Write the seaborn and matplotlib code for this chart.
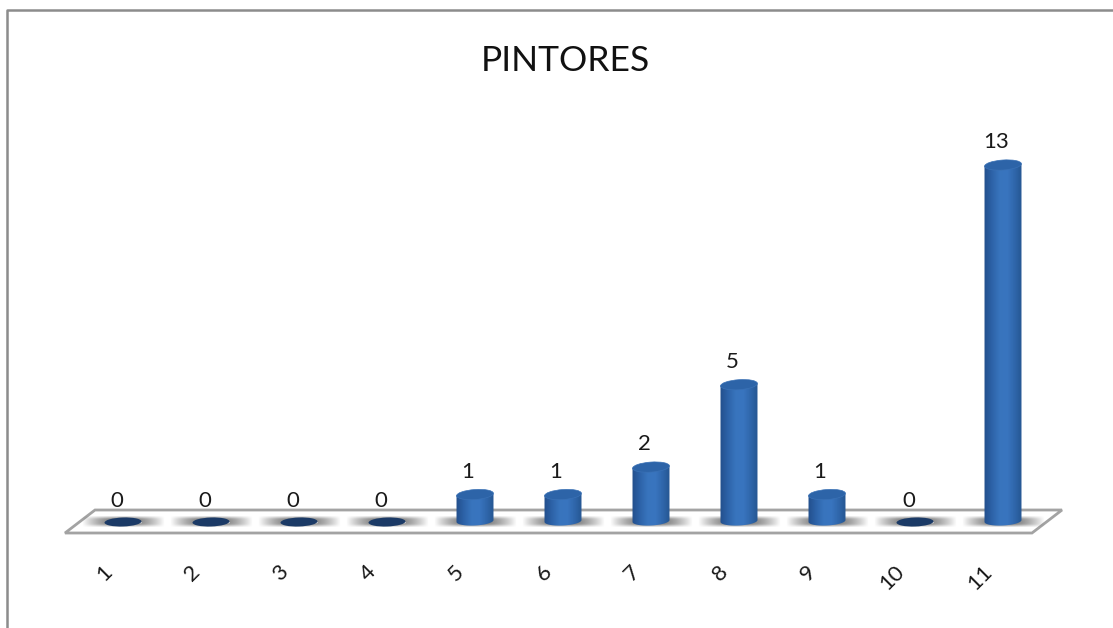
import numpy as np
import pandas as pd
import matplotlib
matplotlib.use("Agg")
import matplotlib.pyplot as plt
from matplotlib.lines import Line2D
from matplotlib.patches import Ellipse, Polygon
from matplotlib.transforms import IdentityTransform, ScaledTranslation
from matplotlib.colors import LinearSegmentedColormap
import seaborn as sns

categories = ["1", "2", "3", "4", "5", "6", "7", "8", "9", "10", "11"]
values = [0, 0, 0, 0, 1, 1, 2, 5, 1, 0, 13]
title = "PINTORES"

W, H = 1113, 628
sns.set_theme(style="white")
plt.rcParams["font.family"] = ["Lato", "DejaVu Sans"]

fig = plt.figure(figsize=(W / 100, H / 100), dpi=100, facecolor="white")
PX = 27.46
x0, y0 = 79, 522
ax = fig.add_axes([x0 / W, (H - y0 - 1.5 * PX) / H, 968 / W, 16 * PX / H])
ax.set_facecolor("none")

df = pd.DataFrame({"cat": categories, "val": values})
sns.barplot(data=df, x="cat", y="val", order=categories, width=0.42,
            color="#3068ae", saturation=1, ax=ax, zorder=2)
ax.set_xlim(-0.5, 10.5)
ax.set_ylim(-1.5, 14.5)
ax.set_xlabel("")
ax.set_ylabel("")
ax.set_yticks([])
sns.despine(ax=ax, left=True, bottom=True)
ax.tick_params(axis="x", length=0, pad=4)

identity = IdentityTransform()
offset = ScaledTranslation(-14 / 100, 0, fig.dpi_scale_trans)
for lab in ax.get_xticklabels():
    lab.set_rotation(45)
    lab.set_rotation_mode("anchor")
    lab.set_ha("right")
    lab.set_va("center")
    lab.set_fontsize(16)
    lab.set_color("#1a1a1a")
    lab.set_transform(lab.get_transform() + offset)

# floor
floor_px = [(65, 533), (95, 510), (1062, 510), (1032, 533)]
ax.add_patch(Polygon([(x, H - y) for x, y in floor_px], closed=True, transform=identity,
                     facecolor="white", edgecolor="#a3a3a3", lw=2, zorder=0.5, clip_on=False))

cyl = LinearSegmentedColormap.from_list("cyl", ["#234f8c", "#2d63a8", "#3874bd", "#3975bf", "#2f66aa", "#24548f"])
grad = np.linspace(0, 1, 64)[None, :]
sx = np.linspace(-1, 1, 120)
sy = np.linspace(-1, 1, 24)
salpha = np.outer(np.exp(-(sy / 0.85) ** 4), np.clip(1 - np.abs(sx) ** 1.8, 0, 1)) * 0.8
shadow = np.zeros(salpha.shape + (4,))
shadow[..., :3] = 0.3
shadow[..., 3] = salpha

for patch, v in zip(ax.patches, values):
    xc = patch.get_x() + patch.get_width() / 2
    (cx, cb), (_, ct) = ax.transData.transform([(xc, 0), (xc, patch.get_height())])
    hw = patch.get_width() * 88 / 2
    hh = 5.5
    # floor shadow
    ax.imshow(shadow, extent=(xc - 0.47, xc + 0.47, -0.19, 0.19), aspect="auto",
              zorder=1, interpolation="bilinear")
    if v == 0:
        ax.add_patch(Ellipse((cx, cb), 2 * hw, 2 * hh - 2, angle=2, transform=identity,
                             facecolor="#1b3a66", edgecolor="none", zorder=3))
    else:
        patch.set_alpha(0)
        t = np.radians(np.linspace(180, 360, 40))
        lower = np.c_[cx + hw * np.cos(t), cb + 1 + (hh - 1) * np.sin(t) + 0.05 * hw * np.cos(t)]
        t2 = t - np.pi
        upper = np.c_[cx + hw * np.cos(t2), ct + 0.05 * hw * np.cos(t2)]
        outline = Polygon(np.r_[lower, upper], closed=True, transform=identity)
        im = ax.imshow(grad, cmap=cyl, extent=(xc - 0.22, xc + 0.22, -0.4, v + 0.3),
                       aspect="auto", zorder=3, interpolation="bilinear")
        im.set_clip_path(outline)
        ax.add_patch(Ellipse((cx, ct), 2 * hw, 2 * hh - 1, angle=4, transform=identity,
                             facecolor="#2d64a8", edgecolor="#3a71b5", lw=0.5, zorder=4))
    ax.annotate(str(v), xy=(xc, v), xytext=(-7 if v else -6, 23 if v else 21), textcoords="offset pixels",
                ha="center", va="center", fontsize=16, color="#1a1a1a", zorder=5)

ax.set_xlim(-0.5, 10.5)
ax.set_ylim(-1.5, 14.5)

fig.text(565 / W, 1 - 61 / H, title, ha="center", va="center", fontsize=25.5, color="#111111")

frame = "#8c8c8c"
fig.add_artist(Line2D([6.5, 6.5, W], [0, H - 9.5, H - 9.5], transform=identity, color=frame, lw=1.8))

fig.savefig("out.png", dpi=100, facecolor="white")
